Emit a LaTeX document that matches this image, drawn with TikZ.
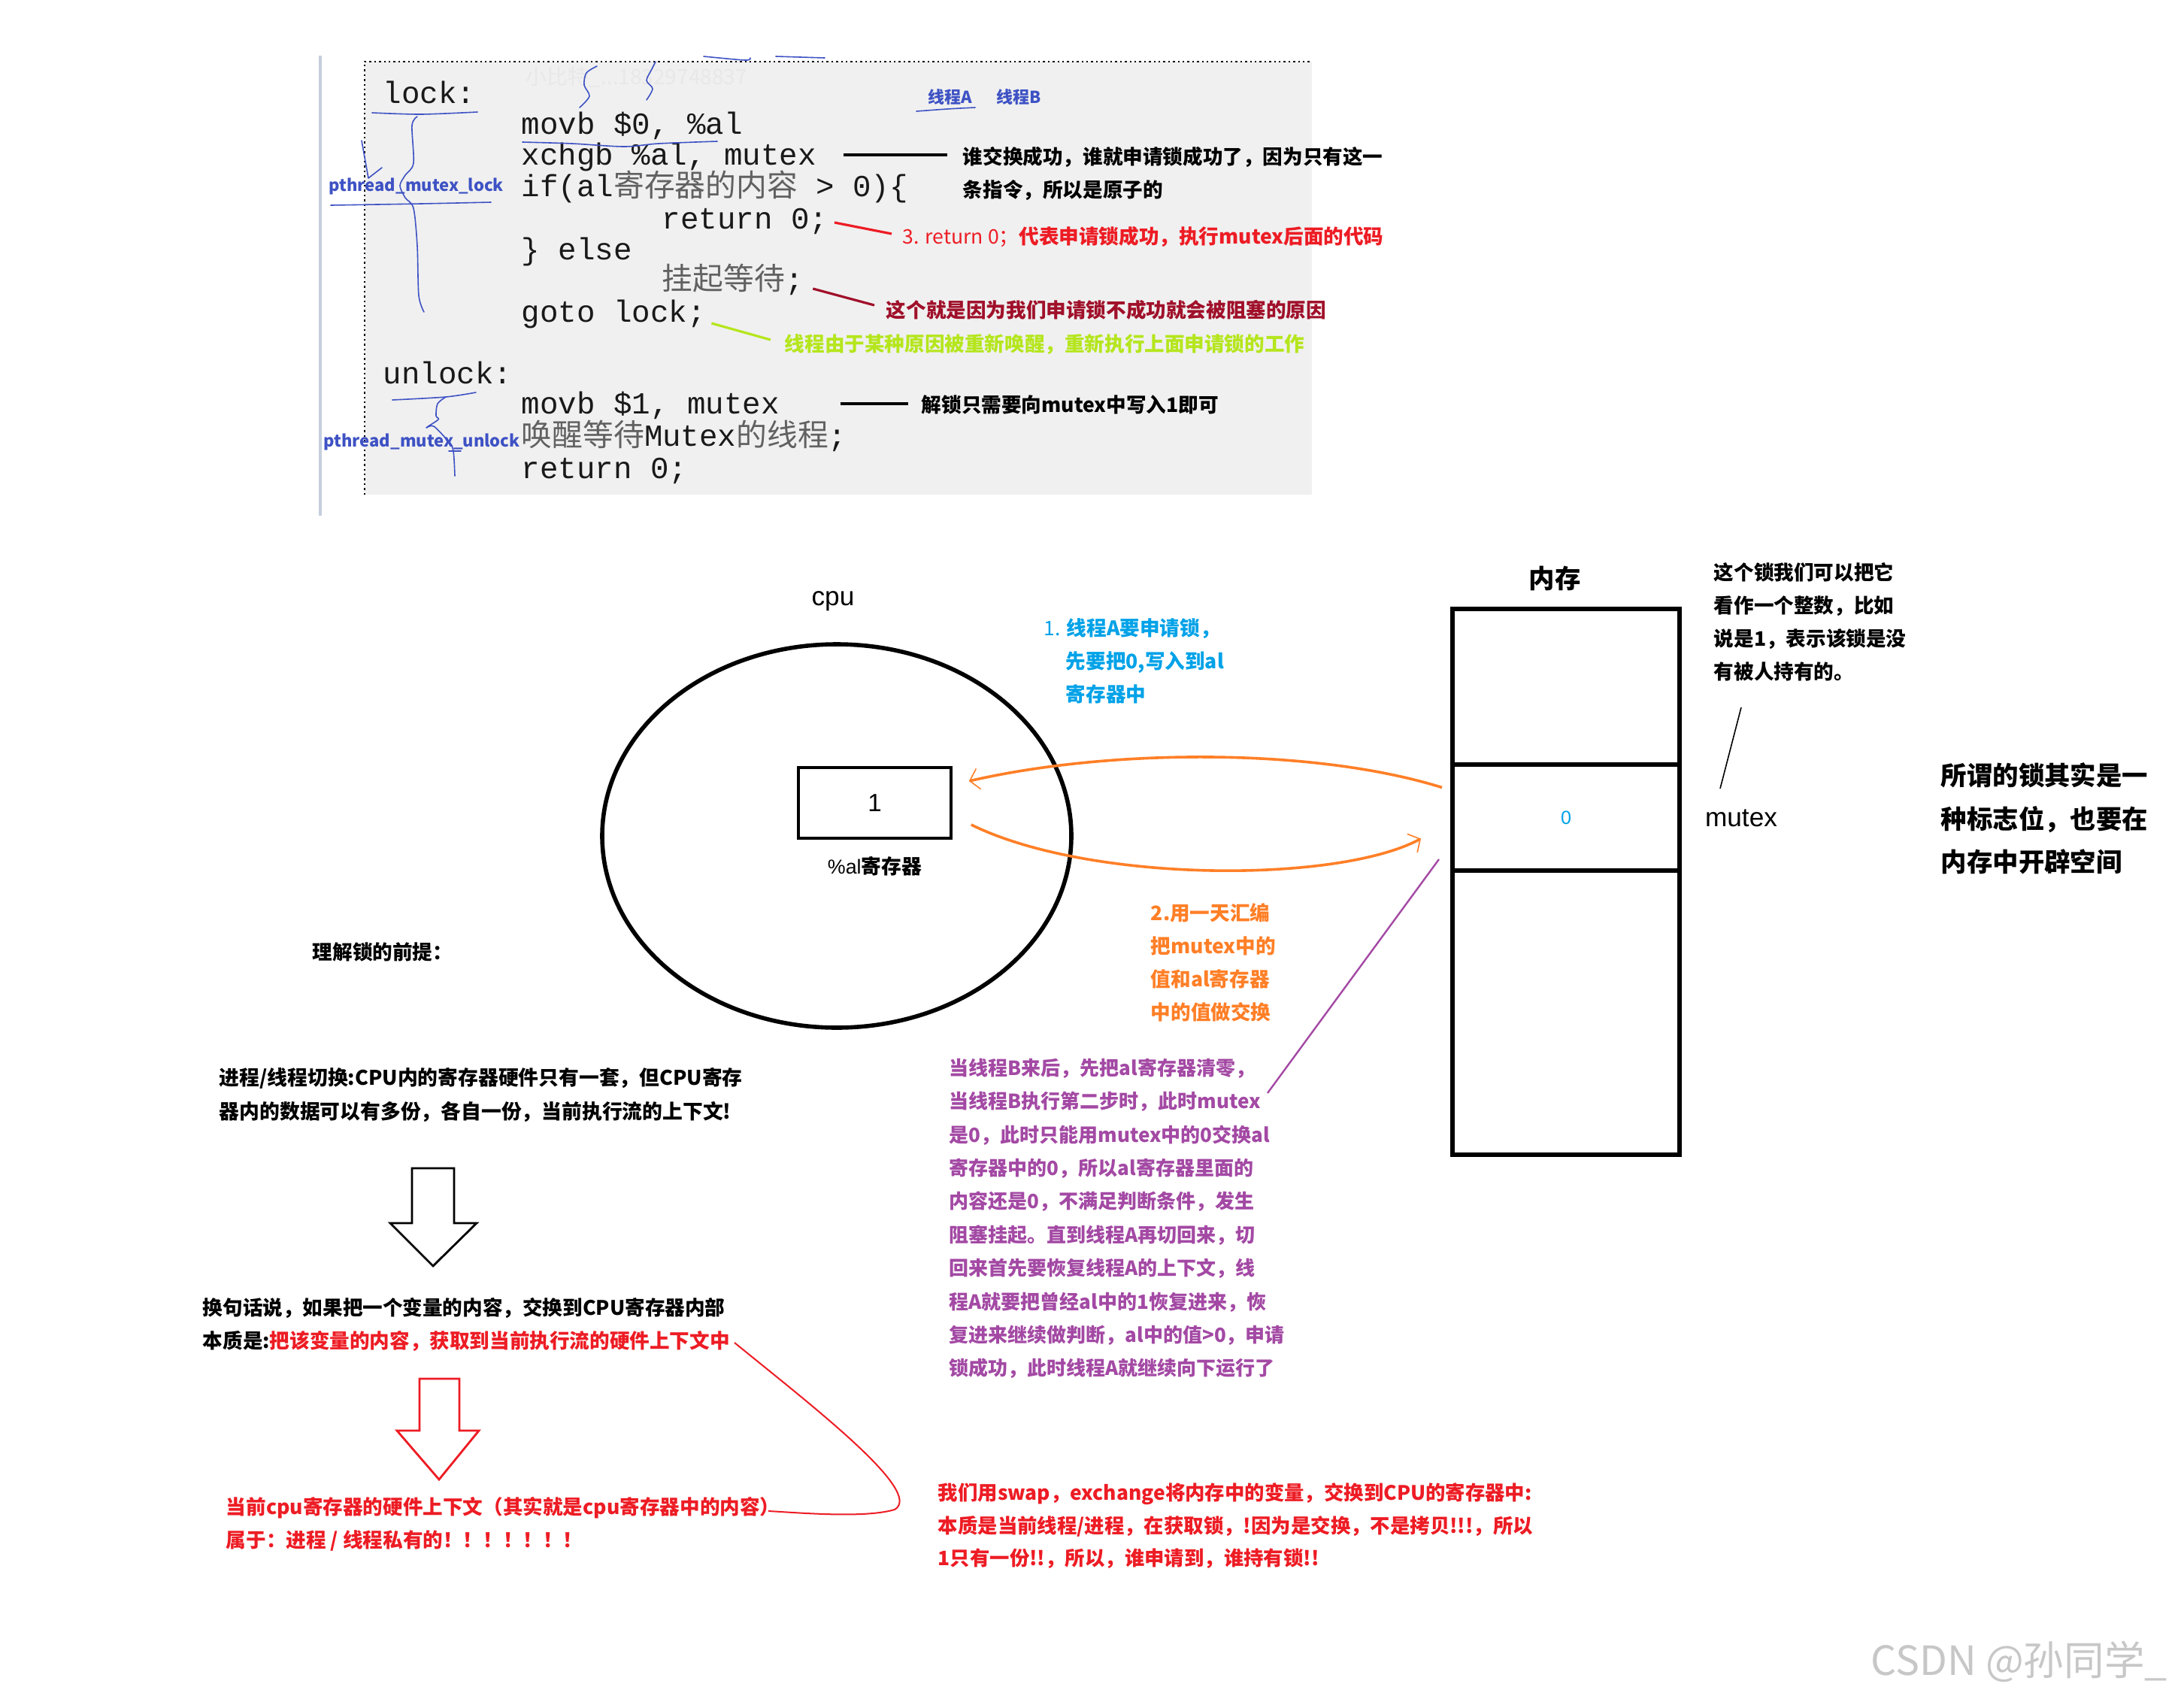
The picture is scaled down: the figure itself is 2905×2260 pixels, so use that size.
\documentclass[tikz,border=0pt]{standalone}
\usepackage{fontspec}
\setmainfont{Liberation Sans}
\newfontfamily\cjk{Noto Sans CJK SC}
\newfontfamily\codefont{Liberation Mono}
\usetikzlibrary{shapes.geometric, arrows.meta, positioning}

\definecolor{handblue}{RGB}{62,82,196}
\definecolor{lockred}{RGB}{237,28,36}
\definecolor{wine}{RGB}{160,16,42}
\definecolor{wakegreen}{RGB}{181,230,29}
\definecolor{stepblue}{RGB}{0,162,232}
\definecolor{swaporange}{RGB}{255,127,39}
\definecolor{bpurple}{RGB}{163,73,164}
\definecolor{codebg}{RGB}{240,240,240}
\definecolor{barblue}{RGB}{196,206,222}
\newcommand\cjkcode[1]{{\cjk\color{black!62}#1}}

\begin{document}
\begin{tikzpicture}[x=0.25pt, y=-0.25pt,
        asmline/.style={font=\codefont\fontsize{10.2pt}{12pt}\selectfont, inner sep=0, anchor=west, text height=7.6pt, text depth=2.2pt, text=black!90},
        annot/.style={font=\cjk\bfseries\fontsize{6.65pt}{11pt}\selectfont, inner sep=0, align=left, anchor=north west},
        tagline/.style={font=\cjk\bfseries\fontsize{6.65pt}{11pt}\selectfont, inner sep=0, anchor=west, text height=5.6pt, text depth=0.8pt},
        plabel/.style={font=\cjk\bfseries\fontsize{5.5pt}{7pt}\selectfont, text=handblue, inner sep=0, anchor=west, text height=4.6pt, text depth=1.1pt},
        leader/.style={line width=0.8pt},
        handmark/.style={handblue, line width=0.4pt, line cap=round, line join=round},
        regbox/.style={draw, line width=0.9pt, minimum width=50.75pt, minimum height=23.5pt, inner sep=0, font=\fontsize{8.3pt}{10pt}\selectfont},
        memcell/.style={draw, line width=1.4pt, minimum width=75.5pt, inner sep=0, outer sep=0},
        hollow/.style={line width=0.7pt, line join=miter},
        xchgarrow/.style={swaporange, line width=0.9pt, -{Straight Barb[length=3pt, width=7pt, line width=0.4pt]}}
    ]
        \useasboundingbox (0,0) rectangle (2905,2260);
        \fill[white] (0,0) rectangle (2905,2260);

        % code listing
        \draw[barblue, line width=1.2pt] (426,74) -- (426,686);
        \fill[codebg] (485,82) rectangle (1745,658);
        \draw[densely dotted, line width=0.6pt] (485,658) -- (485,82) -- (1745,82);
        \node[inner sep=0, anchor=west, font=\cjk\fontsize{7pt}{8pt}\selectfont, text=black!9] (wmark) at (699,103) {小比特\_...18329748837};

        \node[asmline] (lockL)   at (509,127) {lock:};
        \node[asmline] (c1)      at (693,168) {movb \$0, \%al};
        \node[asmline] (c2)      at (693,209) {xchgb \%al, mutex};
        \node[asmline] (c3)      at (693,251) {if(al\cjkcode{寄存器的内容} > 0)\{};
        \node[asmline] (c4)      at (880,294) {return 0;};
        \node[asmline] (c5)      at (693,335) {\} else};
        \node[asmline] (c6)      at (880,375) {\cjkcode{挂起等待};};
        \node[asmline] (c7)      at (693,418) {goto lock;};
        \node[asmline] (unlockL) at (509,500) {unlock:};
        \node[asmline] (c8)      at (693,540) {movb \$1, mutex};
        \node[asmline] (c9)      at (693,583) {\cjkcode{唤醒等待}Mutex\cjkcode{的线程};};
        \node[asmline] (c10)     at (693,626) {return 0;};

        \node[plabel] (thA) at (1234,130) {线程A};
        \node[plabel] (thB) at (1325,130) {线程B};
        \node[plabel] (plock)   at (437,247) {pthread\_mutex\_lock};
        \node[plabel] (punlock) at (430,587) {pthread\_mutex\_unlock};

        % hand-drawn marks
        \draw[handmark] plot[smooth] coordinates {(495,150) (560,152) (635,149)};
        \draw[handmark] plot[smooth] coordinates {(555,155) (548,167) (550,217) (539,233) (532,247) (539,263) (550,277) (555,327) (557,393) (564,415)};
        \draw[handmark] (481,187) -- (490,237) -- (508,223);
        \draw[handmark] plot[smooth] coordinates {(440,273) (560,271) (653,269)};
        \draw[handmark] plot[smooth] coordinates {(695,189) (761,191) (830,195) (876,191) (954,188)};
        \draw[handmark] plot[smooth] coordinates {(771,143) (784,128) (777,113) (780,97) (794,88)};
        \draw[handmark] plot[smooth] coordinates {(860,133) (868,118) (860,107) (867,92) (872,82)};
        \draw[handmark] plot[smooth] coordinates {(936,75) (991,80) (998,77)};
        \draw[handmark] plot[smooth] coordinates {(1032,75) (1097,77)};
        \draw[handmark] plot[smooth] coordinates {(1219,148) (1260,145) (1297,143)};
        \draw[handmark] plot[smooth] coordinates {(522,532) (593,528) (633,522)};
        \draw[handmark] plot[smooth] coordinates {(593,528) (582,537) (580,553) (583,558) (567,569) (577,567) (597,588) (603,600) (605,633)};
        \draw[handmark] (597,600) -- (613,600);

        % notes on the listing
        \node[annot] (whoWins) at (1280,194) {谁交换成功，谁就申请锁成功了，因为只有这一\\条指令，所以是原子的};
        \node[tagline, text=lockred] (retNote) at (1200,315) {{\mdseries 3. return 0；}代表申请锁成功，执行mutex后面的代码};
        \node[tagline, text=wine] (blockNote) at (1178,413) {这个就是因为我们申请锁不成功就会被阻塞的原因};
        \node[tagline, text=wakegreen] (wakeNote) at (1043,458) {线程由于某种原因被重新唤醒，重新执行上面申请锁的工作};
        \node[tagline] (unlockNote) at (1225,539) {解锁只需要向mutex中写入1即可};

        \draw[leader] ([shift={(36,-3)}]c2.east) -- ([shift={(-20,12)}]whoWins.north west);
        \draw[leader, lockred] ([shift={(8,2)}]c4.east) -- ([shift={(-14,-4)}]retNote.west);
        \draw[leader, wine] ([shift={(12,9)}]c6.east) -- ([shift={(-15,-7)}]blockNote.west);
        \draw[leader, wakegreen] ([shift={(7,12)}]c7.east) -- ([shift={(-18,-6)}]wakeNote.west);
        \draw[leader] ([shift={(81,-3)}]c8.east) -- ([shift={(-17,-2)}]unlockNote.west);

        % cpu and memory
        \node[draw, ellipse, line width=1.4pt, minimum width=156pt, minimum height=127.5pt, inner sep=0] (cpu) at (1113,1112) {};
        \node[font=\fontsize{8.8pt}{10pt}\selectfont, inner sep=0] (cpuL) at (1108,800) {cpu};
        \node[regbox] (reg) at (1163.5,1068) {1};
        \node[below=5.5pt of reg, inner sep=0, font=\fontsize{6.7pt}{8pt}\selectfont] (regL) {\%al{\cjk\bfseries 寄存器}};

        \node[memcell, minimum height=51.75pt] (mtop) at (2083,913.5) {};
        \node[memcell, minimum height=35.25pt, below=0pt of mtop, text=stepblue, font=\fontsize{6.3pt}{8pt}\selectfont] (mcell) {0};
        \node[memcell, minimum height=94.5pt, below=0pt of mcell] (mbot) {};
        \node[inner sep=0, font=\cjk\bfseries\fontsize{8.6pt}{10pt}\selectfont] (memL) at (2068,769) {内存};
        \node[inner sep=0, font=\fontsize{8.8pt}{10pt}\selectfont] (mutexL) at (2316,1088) {mutex};
        \draw[line width=0.4pt] ([shift={(-28,-39)}]mutexL.center) -- ([shift={(0,-147)}]mutexL.center);

        \node[annot] (lockNote) at (2279,748) {这个锁我们可以把它\\看作一个整数，比如\\说是1，表示该锁是没\\有被人持有的。};
        \node[annot, font=\cjk\bfseries\fontsize{8.6pt}{14.4pt}\selectfont] (bigNote) at (2581,1014) {所谓的锁其实是一\\种标志位，也要在\\内存中开辟空间};

        \node[annot, text=stepblue] (stepOne) at (1388,822) {{\mdseries 1. }线程A要申请锁，\\\hspace*{7.25pt}先要把0,写入到al\\\hspace*{7.25pt}寄存器中};
        \node[annot, text=swaporange] (stepTwo) at (1530,1201) {2.用一天汇编\\把mutex中的\\值和al寄存器\\中的值做交换};

        \draw[xchgarrow] ([shift={(-14,-40)}]mcell.west) .. controls (1750,995) and (1480,995) .. ([shift={(22,-29)}]reg.east);
        \draw[xchgarrow] ([shift={(25,29)}]reg.east) .. controls (1450,1175) and (1780,1175) .. ([shift={(-42,28)}]mcell.west);

        \node[annot, text=bpurple, font=\cjk\bfseries\fontsize{6.5pt}{11.1pt}\selectfont] (bNote) at (1262,1407) {当线程B来后，先把al寄存器清零，\\当线程B执行第二步时，此时mutex\\是0，此时只能用mutex中的0交换al\\寄存器中的0，所以al寄存器里面的\\内容还是0，不满足判断条件，发生\\阻塞挂起。直到线程A再切回来，切\\回来首先要恢复线程A的上下文，线\\程A就要把曾经al中的1恢复进来，恢\\复进来继续做判断，al中的值>0，申请\\锁成功，此时线程A就继续向下运行了};
        \coordinate (bTip) at (1686,1454);
        \draw[bpurple, line width=0.6pt] (bTip) -- ([shift={(-18,-15)}]mcell.south west);

        % left column
        \node[tagline] (premise) at (415,1267) {理解锁的前提：};
        \node[annot, font=\cjk\bfseries\fontsize{6.7pt}{11.25pt}\selectfont] (switchNote) at (291,1420) {进程/线程切换:CPU内的寄存器硬件只有一套，但CPU寄存\\器内的数据可以有多份，各自一份，当前执行流的上下文!};
        \draw[hollow] (548,1554) -- (604,1554) -- (604,1627) -- (634,1627) -- (576,1684) -- (519,1627) -- (548,1627) -- cycle;

        \node[annot] (wordsNote) at (269,1726) {换句话说，如果把一个变量的内容，交换到CPU寄存器内部\\本质是:\textcolor{lockred}{把该变量的内容，获取到当前执行流的硬件上下文中}};
        \draw[hollow, lockred] (558,1834) -- (611,1834) -- (611,1903) -- (637,1903) -- (584,1968) -- (528,1903) -- (558,1903) -- cycle;

        \node[annot, text=lockred] (privNote) at (300,1991) {当前cpu寄存器的硬件上下文（其实就是cpu寄存器中的内容）\\属于：进程 / 线程私有的！！！！！！！};
        \coordinate (rTop) at (977,1786);
        \coordinate (rEnd) at (1022,2010);
        \draw[lockred, line width=0.5pt] (rTop) .. controls (1080,1870) and (1230,1985) .. (1190,2008) .. controls (1150,2020) and (1060,2012) .. (rEnd);

        \node[annot, text=lockred, font=\cjk\bfseries\fontsize{6.6pt}{10.9pt}\selectfont] (swapNote) at (1247,1972) {我们用swap，exchange将内存中的变量，交换到CPU的寄存器中:\\本质是当前线程/进程，在获取锁，!因为是交换，不是拷贝!!!，所以\\1只有一份!!，所以，谁申请到，谁持有锁!!};

        \node[inner sep=0, anchor=west, font=\cjk\fontsize{13.4pt}{15pt}\selectfont, text=black!22] (csdn) at (2488,2210) {CSDN @孙同学\_};
    \end{tikzpicture}
\end{document}
